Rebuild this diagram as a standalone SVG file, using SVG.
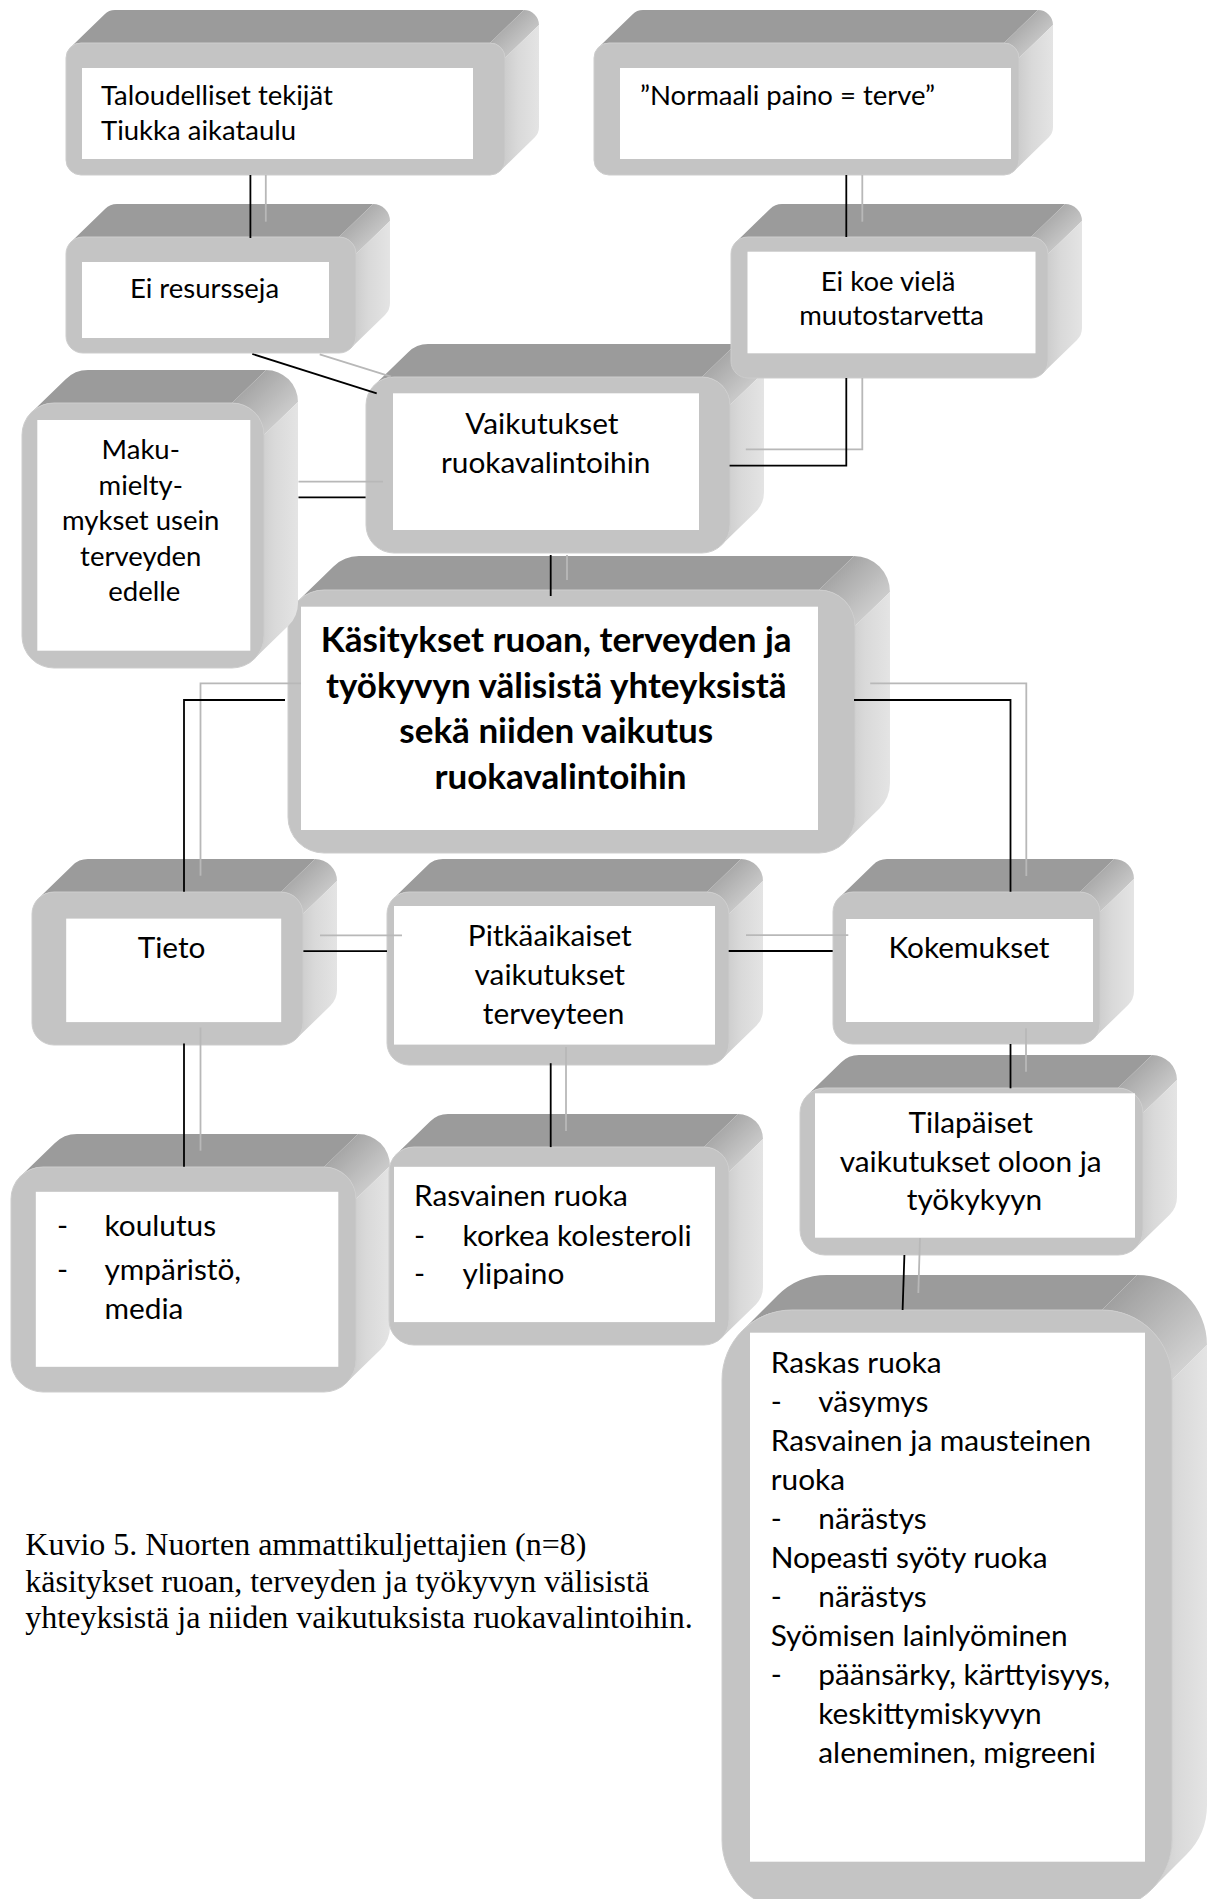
<svg xmlns="http://www.w3.org/2000/svg" width="1208" height="1899" viewBox="0 0 1208 1899">
<defs>
<linearGradient id="gS" x1="0" y1="0" x2="1" y2="0"><stop offset="0" stop-color="#c9c9c9"/><stop offset="0.45" stop-color="#d9d9d9"/><stop offset="1" stop-color="#e4e4e4"/></linearGradient>
<linearGradient id="gC" x1="0" y1="0" x2="1" y2="1"><stop offset="0.1" stop-color="#9b9b9b"/><stop offset="1" stop-color="#dedede"/></linearGradient>
<style>
.top{fill:#9b9b9b}
.cor{fill:url(#gC)}
.side{fill:url(#gS)}
.front{fill:#c4c4c4;stroke:#cdcdcd;stroke-width:1}
.inner{fill:#ffffff}
.t{font-family:Lato,"Liberation Sans",sans-serif;font-size:29.8px;fill:#000}
.s{font-size:27.5px}
.b{font-weight:bold;font-size:35px}
.c{text-anchor:middle}
.cap{font-family:"Liberation Serif",serif;font-size:32px;fill:#000}
.k{stroke:#000;stroke-width:1.8;fill:none}
.g{stroke:#b8b8b8;stroke-width:1.8;fill:none}
</style>
</defs>
<rect x="0" y="0" width="1208" height="1899" fill="#ffffff"/>

<g id="n14">
<g transform="translate(722,1310)">
<path class="top" d="M20.5,20.5 L55.5,-14.5 A70 70 0 0 1 105,-35 L415,-35 L380,0 L70,0 A70 70 0 0 0 20.5,20.5 Z"/>
<path class="cor" d="M380,0 L415,-35 A70 70 0 0 1 485,35 L450,70 A70 70 0 0 0 380,0 Z"/>
<path class="side" d="M450,70 L485,35 L485,495 A70 70 0 0 1 464.5,544.5 L429.5,579.5 A70 70 0 0 0 450,530 Z"/>
<rect class="front" x="0" y="0" width="450" height="600" rx="70"/>
<rect class="inner" x="28" y="22.7" width="395" height="529"/>
</g>
<text class="t">
<tspan x="770.7" y="1373.3">Raskas ruoka</tspan>
<tspan x="770.7" y="1412.3">-</tspan><tspan x="818.3" y="1412.3">väsymys</tspan>
<tspan x="770.7" y="1451.3">Rasvainen ja mausteinen</tspan>
<tspan x="770.7" y="1490.3">ruoka</tspan>
<tspan x="770.7" y="1529.3">-</tspan><tspan x="818.3" y="1529.3">närästys</tspan>
<tspan x="770.7" y="1568.3">Nopeasti syöty ruoka</tspan>
<tspan x="770.7" y="1607.3">-</tspan><tspan x="818.3" y="1607.3">närästys</tspan>
<tspan x="770.7" y="1646.3">Syömisen lainlyöminen</tspan>
<tspan x="770.7" y="1685.3">-</tspan><tspan x="818.3" y="1685.3">päänsärky, kärttyisyys,</tspan>
<tspan x="818.3" y="1724.3">keskittymiskyvyn</tspan>
<tspan x="818.3" y="1763.3">aleneminen, migreeni</tspan>
</text>
</g>

<g id="n11">
<g transform="translate(11,1167)">
<path class="top" d="M9.4,9.4 L43.4,-23.6 A32 32 0 0 1 66,-33 L347,-33 L313,0 L32,0 A32 32 0 0 0 9.4,9.4 Z"/>
<path class="cor" d="M313,0 L347,-33 A32 32 0 0 1 379,-1 L345,32 A32 32 0 0 0 313,0 Z"/>
<path class="side" d="M345,32 L379,-1 L379,160 A32 32 0 0 1 369.6,182.6 L335.6,215.6 A32 32 0 0 0 345,193 Z"/>
<rect class="front" x="0" y="0" width="345" height="225" rx="32"/>
<rect class="inner" x="24.8" y="24.8" width="302.5" height="175"/>
</g>
<text class="t">
<tspan x="57" y="1235.7">-</tspan><tspan x="104.5" y="1235.7">koulutus</tspan>
<tspan x="57" y="1280">-</tspan><tspan x="104.5" y="1280">ympäristö,</tspan>
<tspan x="104.5" y="1318.6">media</tspan>
</text>
</g>

<g id="n12">
<g transform="translate(389,1147)">
<path class="top" d="M7.3,7.3 L41.3,-25.7 A25 25 0 0 1 59,-33 L349,-33 L315,0 L25,0 A25 25 0 0 0 7.3,7.3 Z"/>
<path class="cor" d="M315,0 L349,-33 A25 25 0 0 1 374,-8 L340,25 A25 25 0 0 0 315,0 Z"/>
<path class="side" d="M340,25 L374,-8 L374,140 A25 25 0 0 1 366.7,157.7 L332.7,190.7 A25 25 0 0 0 340,173 Z"/>
<rect class="front" x="0" y="0" width="340" height="198" rx="25"/>
<rect class="inner" x="5" y="19.8" width="321" height="155.3"/>
</g>
<text class="t">
<tspan x="414" y="1206">Rasvainen ruoka</tspan>
<tspan x="414" y="1246.4">-</tspan><tspan x="462.6" y="1246.4">korkea kolesteroli</tspan>
<tspan x="414" y="1284">-</tspan><tspan x="462.6" y="1284">ylipaino</tspan>
</text>
</g>

<g id="n13">
<g transform="translate(800,1088)">
<path class="top" d="M7.3,7.3 L41.3,-25.7 A25 25 0 0 1 59,-33 L352,-33 L318,0 L25,0 A25 25 0 0 0 7.3,7.3 Z"/>
<path class="cor" d="M318,0 L352,-33 A25 25 0 0 1 377,-8 L343,25 A25 25 0 0 0 318,0 Z"/>
<path class="side" d="M343,25 L377,-8 L377,109 A25 25 0 0 1 369.7,126.7 L335.7,159.7 A25 25 0 0 0 343,142 Z"/>
<rect class="front" x="0" y="0" width="343" height="167" rx="25"/>
<rect class="inner" x="15" y="5.3" width="320" height="144.4"/>
</g>
<text class="t c">
<tspan x="974.5" y="1133.3">Tilapäiset</tspan>
<tspan x="974.5" y="1171.7">vaikutukset oloon ja</tspan>
<tspan x="974.5" y="1210">työkykyyn</tspan>
</text>
</g>

<g id="n8">
<g transform="translate(32,892)">
<path class="top" d="M6.4,6.4 L40.4,-26.6 A22 22 0 0 1 56,-33 L283,-33 L249,0 L22,0 A22 22 0 0 0 6.4,6.4 Z"/>
<path class="cor" d="M249,0 L283,-33 A22 22 0 0 1 305,-11 L271,22 A22 22 0 0 0 249,0 Z"/>
<path class="side" d="M271,22 L305,-11 L305,98 A22 22 0 0 1 298.6,113.6 L264.6,146.6 A22 22 0 0 0 271,131 Z"/>
<rect class="front" x="0" y="0" width="271" height="153" rx="22"/>
<rect class="inner" x="34.2" y="26.6" width="215" height="103.5"/>
</g>
<text class="t c" x="171.6" y="958">Tieto</text>
</g>

<g id="n9">
<g transform="translate(387,892)">
<path class="top" d="M6.4,6.4 L40.4,-26.6 A22 22 0 0 1 56,-33 L354,-33 L320,0 L22,0 A22 22 0 0 0 6.4,6.4 Z"/>
<path class="cor" d="M320,0 L354,-33 A22 22 0 0 1 376,-11 L342,22 A22 22 0 0 0 320,0 Z"/>
<path class="side" d="M342,22 L376,-11 L376,118 A22 22 0 0 1 369.6,133.6 L335.6,166.6 A22 22 0 0 0 342,151 Z"/>
<rect class="front" x="0" y="0" width="342" height="173" rx="22"/>
<rect class="inner" x="7" y="14" width="321" height="138.6"/>
</g>
<text class="t c">
<tspan x="553.6" y="946">Pitkäaikaiset</tspan>
<tspan x="553.6" y="985">vaikutukset</tspan>
<tspan x="553.6" y="1024">terveyteen</tspan>
</text>
</g>

<g id="n10">
<g transform="translate(833,892)">
<path class="top" d="M5.9,5.9 L39.9,-27.1 A20 20 0 0 1 54,-33 L281,-33 L247,0 L20,0 A20 20 0 0 0 5.9,5.9 Z"/>
<path class="cor" d="M247,0 L281,-33 A20 20 0 0 1 301,-13 L267,20 A20 20 0 0 0 247,0 Z"/>
<path class="side" d="M267,20 L301,-13 L301,99 A20 20 0 0 1 295.1,113.1 L261.1,146.1 A20 20 0 0 0 267,132 Z"/>
<rect class="front" x="0" y="0" width="267" height="152" rx="20"/>
<rect class="inner" x="13" y="27" width="247" height="103"/>
</g>
<text class="t c" x="969" y="958.3">Kokemukset</text>
</g>

<g id="n7">
<g transform="translate(288,590)">
<path class="top" d="M10.5,10.5 L45.5,-23.5 A36 36 0 0 1 71,-34 L566,-34 L531,0 L36,0 A36 36 0 0 0 10.5,10.5 Z"/>
<path class="cor" d="M531,0 L566,-34 A36 36 0 0 1 602,2 L567,36 A36 36 0 0 0 531,0 Z"/>
<path class="side" d="M567,36 L602,2 L602,193 A36 36 0 0 1 591.5,218.5 L556.5,252.5 A36 36 0 0 0 567,227 Z"/>
<rect class="front" x="0" y="0" width="567" height="263" rx="36"/>
<rect class="inner" x="13" y="16.7" width="517" height="223.3"/>
</g>
<text class="t b c">
<tspan x="560.5" y="652">Käsitykset ruoan, terveyden ja</tspan>
<tspan x="560.5" y="697.5">työkyvyn välisistä yhteyksistä</tspan>
<tspan x="560.5" y="743">sekä niiden vaikutus</tspan>
<tspan x="560.5" y="788.5">ruokavalintoihin</tspan>
</text>
</g>

<g id="n5">
<g transform="translate(22,403)">
<path class="top" d="M9.4,9.4 L43.4,-23.6 A32 32 0 0 1 66,-33 L244,-33 L210,0 L32,0 A32 32 0 0 0 9.4,9.4 Z"/>
<path class="cor" d="M210,0 L244,-33 A32 32 0 0 1 276,-1 L242,32 A32 32 0 0 0 210,0 Z"/>
<path class="side" d="M242,32 L276,-1 L276,200 A32 32 0 0 1 266.6,222.6 L232.6,255.6 A32 32 0 0 0 242,233 Z"/>
<rect class="front" x="0" y="0" width="242" height="265" rx="32"/>
<rect class="inner" x="15.3" y="17" width="213" height="230.7"/>
</g>
<text class="t s c">
<tspan x="144.3" y="459">Maku-</tspan>
<tspan x="144.3" y="494.5">mielty-</tspan>
<tspan x="144.3" y="530">mykset usein</tspan>
<tspan x="144.3" y="565.5">terveyden</tspan>
<tspan x="144.3" y="601">edelle</tspan>
</text>
</g>

<g id="n6">
<g transform="translate(366,377)">
<path class="top" d="M8.2,8.2 L42.2,-24.8 A28 28 0 0 1 62,-33 L370,-33 L336,0 L28,0 A28 28 0 0 0 8.2,8.2 Z"/>
<path class="cor" d="M336,0 L370,-33 A28 28 0 0 1 398,-5 L364,28 A28 28 0 0 0 336,0 Z"/>
<path class="side" d="M364,28 L398,-5 L398,115 A28 28 0 0 1 389.8,134.8 L355.8,167.8 A28 28 0 0 0 364,148 Z"/>
<rect class="front" x="0" y="0" width="364" height="176" rx="28"/>
<rect class="inner" x="27" y="16.3" width="306" height="136.7"/>
</g>
<text class="t c">
<tspan x="545.7" y="434">Vaikutukset</tspan>
<tspan x="545.7" y="472.7">ruokavalintoihin</tspan>
</text>
</g>

<g id="n2">
<g transform="translate(66,237)">
<path class="top" d="M5,5 L39,-28 A17 17 0 0 1 51,-33 L307,-33 L273,0 L17,0 A17 17 0 0 0 5,5 Z"/>
<path class="cor" d="M273,0 L307,-33 A17 17 0 0 1 324,-16 L290,17 A17 17 0 0 0 273,0 Z"/>
<path class="side" d="M290,17 L324,-16 L324,66 A17 17 0 0 1 319,78 L285,111 A17 17 0 0 0 290,99 Z"/>
<rect class="front" x="0" y="0" width="290" height="116" rx="17"/>
<rect class="inner" x="16" y="25" width="247" height="76"/>
</g>
<text class="t s c" x="204.5" y="298">Ei resursseja</text>
</g>

<g id="n4">
<g transform="translate(731,237)">
<path class="top" d="M5,5 L39,-28 A17 17 0 0 1 51,-33 L334,-33 L300,0 L17,0 A17 17 0 0 0 5,5 Z"/>
<path class="cor" d="M300,0 L334,-33 A17 17 0 0 1 351,-16 L317,17 A17 17 0 0 0 300,0 Z"/>
<path class="side" d="M317,17 L351,-16 L351,91 A17 17 0 0 1 346,103 L312,136 A17 17 0 0 0 317,124 Z"/>
<rect class="front" x="0" y="0" width="317" height="141" rx="17"/>
<rect class="inner" x="16.5" y="14.7" width="288" height="101.6"/>
</g>
<text class="t s c">
<tspan x="891.6" y="290.7">Ei koe vielä</tspan>
<tspan x="891.6" y="325">muutostarvetta</tspan>
</text>
</g>

<g id="n1">
<g transform="translate(66,43)">
<path class="top" d="M4.4,4.4 L38.4,-28.6 A15 15 0 0 1 49,-33 L458,-33 L424,0 L15,0 A15 15 0 0 0 4.4,4.4 Z"/>
<path class="cor" d="M424,0 L458,-33 A15 15 0 0 1 473,-18 L439,15 A15 15 0 0 0 424,0 Z"/>
<path class="side" d="M439,15 L473,-18 L473,84 A15 15 0 0 1 468.6,94.6 L434.6,127.6 A15 15 0 0 0 439,117 Z"/>
<rect class="front" x="0" y="0" width="439" height="132" rx="15"/>
<rect class="inner" x="16" y="25" width="391" height="91"/>
</g>
<text class="t s">
<tspan x="101" y="105">Taloudelliset tekijät</tspan>
<tspan x="101" y="140">Tiukka aikataulu</tspan>
</text>
</g>

<g id="n3">
<g transform="translate(594,43)">
<path class="top" d="M4.4,4.4 L38.4,-28.6 A15 15 0 0 1 49,-33 L444,-33 L410,0 L15,0 A15 15 0 0 0 4.4,4.4 Z"/>
<path class="cor" d="M410,0 L444,-33 A15 15 0 0 1 459,-18 L425,15 A15 15 0 0 0 410,0 Z"/>
<path class="side" d="M425,15 L459,-18 L459,84 A15 15 0 0 1 454.6,94.6 L420.6,127.6 A15 15 0 0 0 425,117 Z"/>
<rect class="front" x="0" y="0" width="425" height="132" rx="15"/>
<rect class="inner" x="26" y="25" width="391" height="91"/>
</g>
<text class="t s" x="640" y="105">”Normaali paino = terve”</text>
</g>

<g id="connectors">
<path class="g" d="M265.8,175 V221.7"/>
<path class="g" d="M862.3,175 V221.7"/>
<path class="g" d="M319.7,354.3 L391,376.7"/>
<path class="g" d="M862.3,378 V449.3 H745.8"/>
<path class="g" d="M298.5,481.7 H383"/>
<path class="g" d="M567,555 V580"/>
<path class="g" d="M301,683.3 H200.5 V875.7"/>
<path class="g" d="M870.2,683.3 H1026.3 V876"/>
<path class="g" d="M320,935.4 H402"/>
<path class="g" d="M746,935.2 H848.3"/>
<path class="g" d="M200.5,1027.5 V1150.7"/>
<path class="g" d="M566,1047 V1131"/>
<path class="g" d="M1026,1028.3 V1071.7"/>
<path class="g" d="M920,1238 L918.3,1293"/>
<path class="k" d="M250.4,175 V238"/>
<path class="k" d="M846.3,175 V237"/>
<path class="k" d="M252.3,354 L376.7,393.3"/>
<path class="k" d="M846.3,378 V465.7 H729.6"/>
<path class="k" d="M298.5,497.3 H365.6"/>
<path class="k" d="M550.7,555 V596"/>
<path class="k" d="M285,700 H184 V891.8"/>
<path class="k" d="M854,700 H1010.5 V891.7"/>
<path class="k" d="M303.4,951.2 H387"/>
<path class="k" d="M728.7,951 H832.7"/>
<path class="k" d="M184,1043.6 V1166.8"/>
<path class="k" d="M550.7,1063.2 V1147.1"/>
<path class="k" d="M1010.5,1044 V1088.3"/>
<path class="k" d="M904.4,1255 L902.6,1310"/>
</g>

<g id="caption">
<text class="cap">
<tspan x="25.3" y="1555">Kuvio 5. Nuorten ammattikuljettajien (n=8)</tspan>
<tspan x="25.3" y="1591.7">käsitykset ruoan, terveyden ja työkyvyn välisistä</tspan>
<tspan x="25.3" y="1628.3">yhteyksistä ja niiden vaikutuksista ruokavalintoihin.</tspan>
</text>
</g>
</svg>
